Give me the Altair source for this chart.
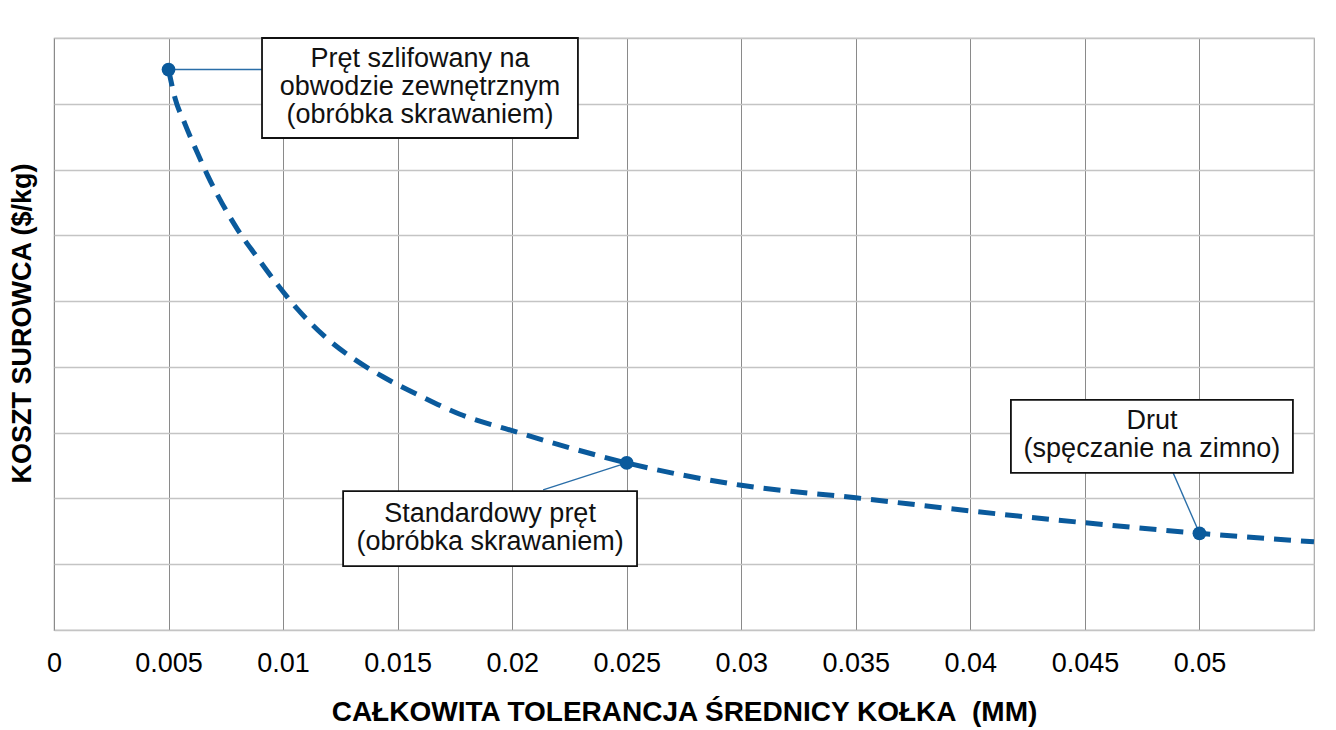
import pandas as pd
import altair as alt

# curve (tolerance in mm, cost in grid units)
tolerance = [0.005, 0.00528, 0.00572, 0.0062, 0.00672, 0.00733, 0.00803, 0.00882,
             0.00969, 0.01065, 0.01179, 0.01301, 0.01436, 0.01598, 0.01772, 0.02,
             0.02252, 0.025, 0.03, 0.035, 0.04, 0.045, 0.05, 0.055]
cost = [8.52, 8.09, 7.69, 7.30, 6.90, 6.49, 6.08, 5.69, 5.28, 4.87, 4.47, 4.14,
        3.85, 3.56, 3.28, 3.03, 2.77, 2.54, 2.20, 2.01, 1.81, 1.63, 1.47, 1.34]

# highlighted products
point_tol = [0.005, 0.025, 0.05]
point_cost = [8.52, 2.54, 1.47]
point_labels = [
    "Pręt szlifowany na\nobwodzie zewnętrznym\n(obróbka skrawaniem)",
    "Standardowy pręt\n(obróbka skrawaniem)",
    "Drut\n(spęczanie na zimno)",
]

x_ticks = [0, 0.005, 0.01, 0.015, 0.02, 0.025, 0.03, 0.035, 0.04, 0.045, 0.05]
y_grid = list(range(10))

# annotation boxes placed in data units (layout only)
box_x1 = [0.00908, 0.01262, 0.04177]
box_x2 = [0.02287, 0.02545, 0.05408]
box_y1 = [7.48, 0.97, 2.39]
box_y2 = [9.0, 2.11, 3.50]
lead_x = [0.00908, 0.02135, 0.04885]
lead_y = [8.52, 2.13, 2.39]

BLUE = "#0a5a9c"
FONT = "Liberation Sans"
LINE_H = 28
PX_Y = 9 / 592  # data units per pixel on y

curve_df = pd.DataFrame({"x": tolerance, "y": cost})
pts_df = pd.DataFrame({"x": point_tol, "y": point_cost})
ann_df = pd.DataFrame({
    "x": point_tol, "y": point_cost,
    "lx": lead_x, "ly": lead_y,
    "bx1": box_x1, "bx2": box_x2, "by1": box_y1, "by2": box_y2,
    "label": point_labels,
})
n_lines = ann_df["label"].str.count("\n")
ann_df["tx"] = (ann_df["bx1"] + ann_df["bx2"]) / 2
ann_df["ty"] = (ann_df["by1"] + ann_df["by2"]) / 2 + n_lines * LINE_H / 2 * PX_Y

x_scale = alt.Scale(domain=[0, 0.055], nice=False, zero=False)
y_scale = alt.Scale(domain=[0, 9], nice=False)

curve = alt.Chart(curve_df).mark_line(
    color=BLUE, strokeWidth=5, strokeDash=[17, 10], interpolate="monotone"
).encode(
    x=alt.X("x:Q", scale=x_scale, axis=alt.Axis(
        values=x_ticks, format=".3~f",
        title="CAŁKOWITA TOLERANCJA ŚREDNICY KOŁKA\u00a0\u00a0(MM)",
        grid=True, gridColor="#8a8a8a", gridWidth=1, domain=False, ticks=False, tickSize=0,
        labelFont=FONT, labelFontSize=27, labelColor="#000", labelPadding=20,
        labelFlush=False,
        titleFont=FONT, titleFontSize=28, titleFontWeight="bold", titleColor="#000",
        titlePadding=22,
    )),
    y=alt.Y("y:Q", scale=y_scale, axis=alt.Axis(
        values=y_grid, labels=False, ticks=False, tickSize=0, domain=False,
        grid=True, gridColor="#c4c4c4", gridWidth=1.6,
        title="KOSZT SUROWCA ($/kg)", titleFont=FONT, titleFontSize=27,
        titleFontWeight="bold", titleColor="#000", titlePadding=18, titleY=285,
    )),
)

leads = alt.Chart(ann_df).mark_rule(color="#2a6ea8", strokeWidth=1.4).encode(
    x=alt.X("x:Q", scale=x_scale),
    y=alt.Y("y:Q", scale=y_scale),
    x2="lx:Q", y2="ly:Q",
)

boxes = alt.Chart(ann_df).mark_rect(fill="white", stroke="#111", strokeWidth=1.8).encode(
    x=alt.X("bx1:Q", scale=x_scale),
    x2="bx2:Q",
    y=alt.Y("by1:Q", scale=y_scale),
    y2="by2:Q",
)

texts = alt.Chart(ann_df).mark_text(
    font=FONT, fontSize=27, lineHeight=LINE_H, lineBreak="\n", align="center",
    baseline="middle", color="#111", dy=-1,
).encode(
    x=alt.X("tx:Q", scale=x_scale),
    y=alt.Y("ty:Q", scale=y_scale),
    text="label:N",
)

dots = alt.Chart(pts_df).mark_circle(color=BLUE, opacity=1, size=190).encode(
    x=alt.X("x:Q", scale=x_scale),
    y=alt.Y("y:Q", scale=y_scale),
)

chart = alt.layer(curve, leads, boxes, texts, dots).properties(
    width=1260, height=592,
    padding={"left": 46, "top": 30, "right": 14, "bottom": 100},
    autosize=alt.AutoSizeParams(type="none"),
).configure_view(stroke="#a8a8a8", strokeWidth=1.2)

chart.save("out.html", embed_options={"renderer": "svg", "actions": False})
